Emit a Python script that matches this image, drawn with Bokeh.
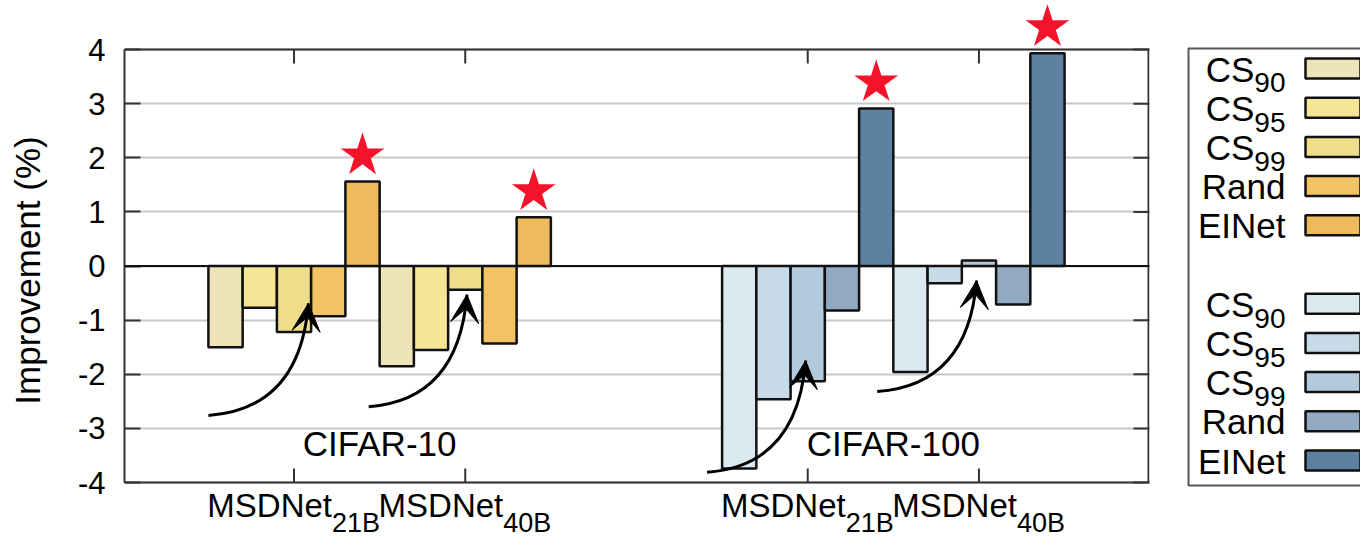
from bokeh.plotting import figure
from bokeh.models import Range1d, FixedTicker, Span, Arrow, VeeHead
from bokeh.layouts import row
from bokeh.core.properties import value
from bokeh.embed import file_html
from bokeh.resources import INLINE

FONT = "Liberation Sans"

# ---------------- data ----------------
datasets = ["CIFAR-10", "CIFAR-100"]
models = ["MSDNet", "MSDNet"]
model_subs = ["21B", "40B"]
methods = ["CS", "CS", "CS", "Rand", "EINet"]
method_subs = ["90", "95", "99", "", ""]

cifar10_21b = [-1.50, -0.77, -1.22, -0.93, 1.56]
cifar10_40b = [-1.85, -1.55, -0.44, -1.43, 0.90]
cifar100_21b = [-3.74, -2.46, -2.13, -0.82, 2.91]
cifar100_40b = [-1.96, -0.32, 0.10, -0.71, 3.93]

colors_c10 = ["#efe3b8", "#f5e597", "#eede8c", "#f1c364", "#eebb5c"]
colors_c100 = ["#dae9f0", "#c7dae8", "#b2cadb", "#91aac2", "#5e81a1"]

y_ticks = [-4, -3, -2, -1, 0, 1, 2, 3, 4]

# curved annotation arrows (tail -> tip), in data units
arrow_tail_x = [-0.5, 4.18, 14.06, 19.03]
arrow_tail_y = [-2.76, -2.60, -3.81, -2.32]
arrow_tip_x = [2.42, 7.05, 16.94, 21.93]
arrow_tip_y = [-0.69, -0.53, -1.75, -0.27]

# ---------------- layout helpers ----------------
group_step = 15
model_step = 5
values = [[cifar10_21b, cifar10_40b], [cifar100_21b, cifar100_40b]]
palettes = [colors_c10, colors_c100]

bar_x, bar_top, bar_col = [], [], []
star_x, star_y = [], []
tick_x, tick_main, tick_sub = [], [], []
for d, ds_vals in enumerate(values):
    for m, vals in enumerate(ds_vals):
        base = d * group_step + m * model_step
        for k, v in enumerate(vals):
            bar_x.append(base + k)
            bar_top.append(v)
            bar_col.append(palettes[d][k])
        star_x.append(base + len(vals) - 1)
        star_y.append(vals[-1] + 0.48)
        tick_x.append(base + (len(vals) - 1) / 2)
        tick_main.append(models[m])
        tick_sub.append(model_subs[m])
group_x = [d * group_step + (model_step * 2 - 1) / 2 for d in range(len(datasets))]

FRAME = "#333333"
PX = 54.125            # pixels per y unit
XPX = 34.25            # pixels per x unit
SHIFT = 0.34           # em correction for text-glyph baseline placement
y_lo, y_hi = y_ticks[0], y_ticks[-1]
X0, X1 = -2.95, 26.98

p = figure(width=1180, height=540, x_range=Range1d(X0, X1),
           y_range=Range1d(y_lo - 58 / PX, y_hi + 49 / PX),
           output_backend="svg", toolbar_location=None,
           min_border_left=124, min_border_right=31, min_border_top=0, min_border_bottom=0)
p.outline_line_color = None
p.background_fill_color = "white"
p.border_fill_color = "white"
p.xaxis.visible = False

# grid
p.xgrid.visible = False
p.ygrid.ticker = FixedTicker(ticks=y_ticks)
p.ygrid.bounds = (y_lo, y_hi)
p.ygrid.grid_line_color = "#c8c8c8"
p.ygrid.grid_line_width = 2

# left axis
ya = p.yaxis[0]
ya.ticker = FixedTicker(ticks=y_ticks)
ya.major_label_overrides = {t: str(t) for t in y_ticks}
ya.bounds = (y_lo, y_hi)
ya.axis_line_color = FRAME
ya.axis_line_width = 2
ya.major_tick_in = 16
ya.major_tick_out = 0
ya.major_tick_line_color = FRAME
ya.major_tick_line_width = 2
ya.minor_tick_line_color = None
ya.major_label_text_font = FONT
ya.major_label_text_font_size = "31px"
ya.major_label_text_color = "black"
ya.major_label_standoff = 19
ya.axis_label = "Improvement (%)"
ya.axis_label_text_font = FONT
ya.axis_label_text_font_size = "35px"
ya.axis_label_text_font_style = "normal"
ya.axis_label_text_color = "black"
ya.axis_label_standoff = 28

# frame: top, bottom lines, right side, and inward ticks
p.add_layout(Span(location=y_hi, dimension="width", line_color=FRAME, line_width=2))
p.add_layout(Span(location=y_lo, dimension="width", line_color=FRAME, line_width=2))
p.segment(x0=[X1 - 1 / XPX], y0=[y_lo], x1=[X1 - 1 / XPX], y1=[y_hi], line_color=FRAME, line_width=2)
p.segment(x0=[X1] * len(y_ticks), y0=y_ticks, x1=[X1 - 16 / XPX] * len(y_ticks), y1=y_ticks,
          line_color=FRAME, line_width=2)
p.segment(x0=tick_x, y0=[y_hi] * len(tick_x), x1=tick_x, y1=[y_hi - 14 / PX] * len(tick_x),
          line_color=FRAME, line_width=2)
p.segment(x0=tick_x, y0=[y_lo] * len(tick_x), x1=tick_x, y1=[y_lo + 14 / PX] * len(tick_x),
          line_color=FRAME, line_width=2)

# bars
p.vbar(x=bar_x, top=bar_top, bottom=0, width=1, fill_color=bar_col,
       line_color="#111111", line_width=2.5)

# zero line
p.add_layout(Span(location=0, dimension="width", line_color="#111111", line_width=2))

# stars
p.scatter(x=star_x, y=star_y, marker="star", size=46, fill_color="#f5132c", line_color=None)

# arrows
ctrl_x = [tx - 0.25 for tx in arrow_tip_x]
ctrl_y = [ty + 0.12 for ty in arrow_tail_y]
p.quadratic(x0=arrow_tail_x, y0=arrow_tail_y, x1=arrow_tip_x, y1=arrow_tip_y,
            cx=ctrl_x, cy=ctrl_y, line_color="black", line_width=3)
for cx, cy, tx, ty in zip(ctrl_x, ctrl_y, arrow_tip_x, arrow_tip_y):
    p.add_layout(Arrow(end=VeeHead(size=28, fill_color="black", line_color="black", line_width=1),
                       x_start=cx, y_start=cy, x_end=tx, y_end=ty, line_alpha=0))

# dataset labels
GL_SIZE = 35
p.text(x=group_x, y=[-3.5 + SHIFT * GL_SIZE / PX] * len(group_x), text=datasets, text_align="center",
       text_baseline="alphabetic", text_font=value(FONT), text_font_size=f"{GL_SIZE}px",
       text_color="black")

# x tick labels with subscripts (drawn inside the extended frame, below the axis line)
XL_MAIN, XL_SUB = 33, 27
p.text(x=tick_x, y=[y_lo - (34 - SHIFT * XL_MAIN) / PX] * len(tick_x), text=tick_main, x_offset=38,
       text_align="right", text_baseline="alphabetic", text_font=value(FONT),
       text_font_size=f"{XL_MAIN}px", text_color="black")
p.text(x=tick_x, y=[y_lo - (50 - SHIFT * XL_SUB) / PX] * len(tick_x), text=tick_sub, x_offset=38,
       text_align="left", text_baseline="alphabetic", text_font=value(FONT),
       text_font_size=f"{XL_SUB}px", text_color="black")

# ---------------- legend panel ----------------
leg = figure(width=180, height=540, x_range=Range1d(0, 180), y_range=Range1d(540, 0),
             output_backend="svg", toolbar_location=None, min_border=0,
             x_axis_type=None, y_axis_type=None)
leg.grid.visible = False
leg.outline_line_color = None
leg.background_fill_color = "white"
leg.border_fill_color = "white"

leg.line(x=[180, 8, 8, 180], y=[48, 48, 485, 485], line_color="#555555", line_width=2)

row_idx = list(range(5)) + list(range(6, 11))
row_y = [68 + 39.2 * i for i in row_idx]
leg_cols = colors_c10 + colors_c100
leg_main = methods * 2
leg_sub = method_subs * 2
MAIN_SIZE, SUB_SIZE = 35, 28
text_right = 105
main_right = [text_right - len(s) * 0.556 * SUB_SIZE for s in leg_sub]
sub_rows = [(y, s) for y, s in zip(row_y, leg_sub) if s]

leg.rect(x=[152.5] * len(row_y), y=row_y, width=55, height=20, fill_color=leg_cols,
         line_color="#111111", line_width=2.5)
leg.text(x=main_right, y=[y + 12.5 - SHIFT * MAIN_SIZE for y in row_y], text=leg_main,
         text_align="right", text_baseline="alphabetic", text_font=value(FONT),
         text_font_size=f"{MAIN_SIZE}px", text_color="black")
leg.text(x=[text_right] * len(sub_rows), y=[y + 24 - SHIFT * SUB_SIZE for y, _ in sub_rows],
         text=[s for _, s in sub_rows], text_align="right",
         text_baseline="alphabetic", text_font=value(FONT), text_font_size=f"{SUB_SIZE}px",
         text_color="black")

layout = row(p, leg)
open("out.html", "w").write(file_html(layout, INLINE))
